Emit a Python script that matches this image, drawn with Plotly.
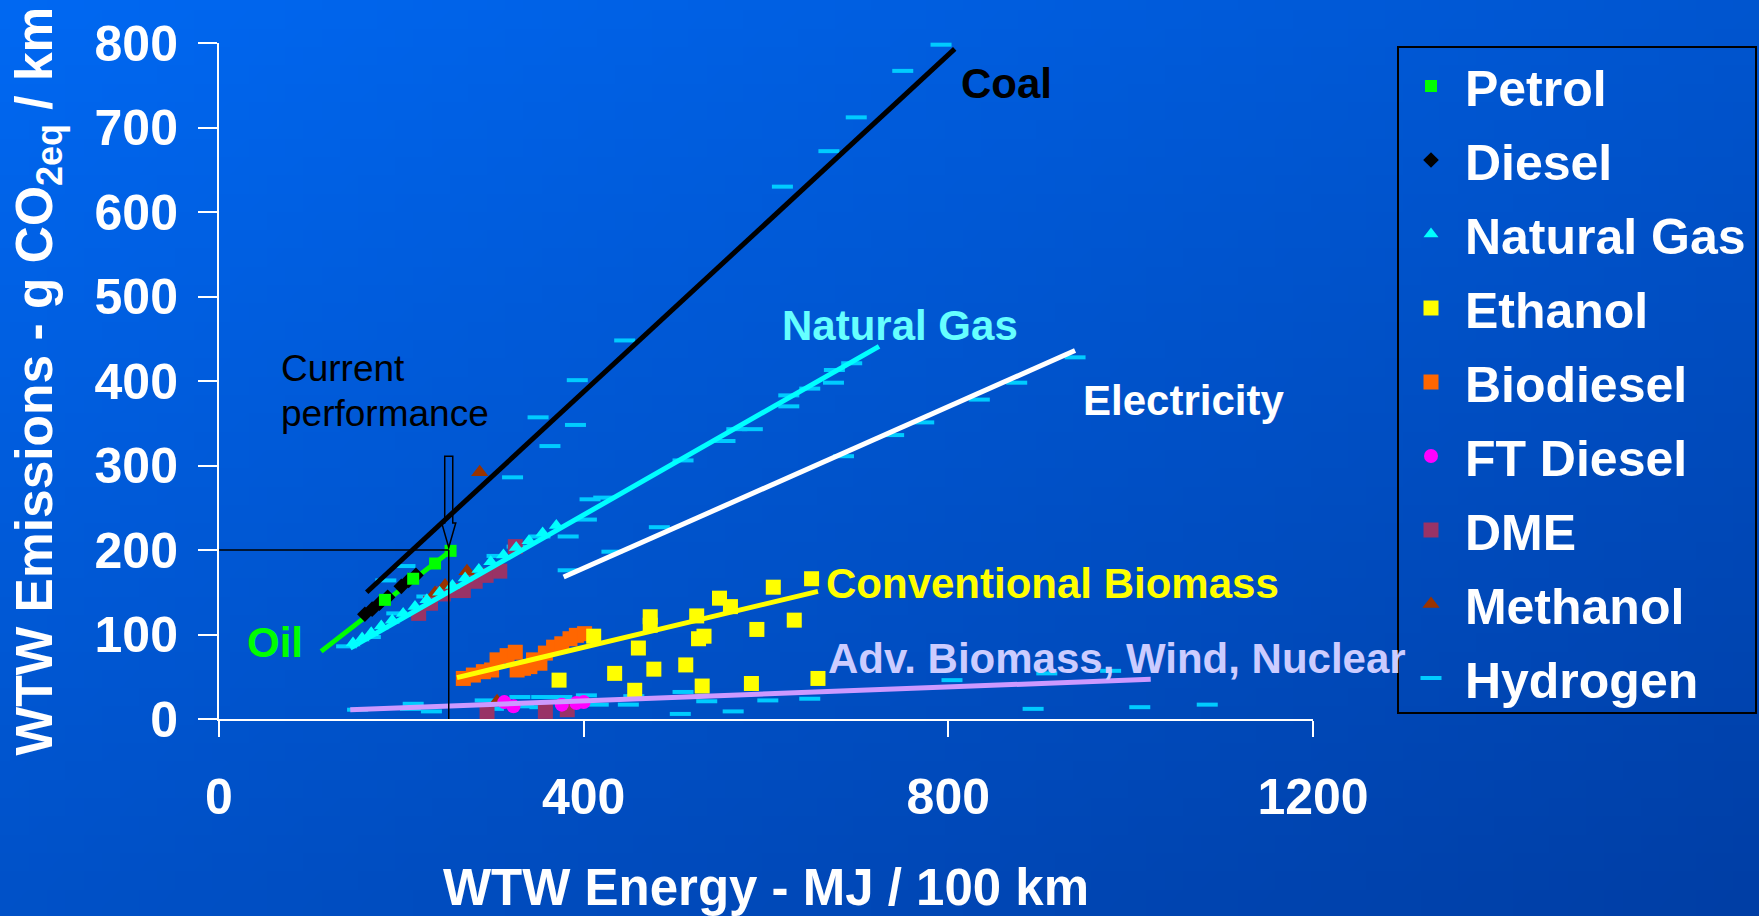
import base64
import struct
import zlib

import plotly.graph_objects as go

# ---------------- data (WTW energy MJ/100 km, WTW emissions g CO2eq/km) ----------------
petrol_x = [182, 213, 237, 254]
petrol_y = [141, 166, 184, 199]

diesel_x = [160, 168, 176, 185, 200, 208, 216]
diesel_y = [124, 130, 137, 144, 157, 164, 170]

natgas_x = [147, 157, 167, 178, 190, 202, 215, 228, 242, 256, 270, 285, 298, 312, 326, 340, 355, 370]
natgas_y = [90, 96, 102, 110, 117, 125, 133, 141, 150, 158, 167, 177, 186, 194, 203, 211, 220, 229]

ethanol_x = [650, 608, 549, 561, 524, 473, 473, 590, 631, 532, 526, 460, 411, 477, 512, 434, 373, 456, 530, 584, 657]
ethanol_y = [166, 156, 143, 133, 122, 121, 111, 106, 117, 98, 95, 84, 98, 59, 64, 54, 46, 34, 39, 42, 48]

biodiesel_x = [268, 279, 290, 299, 305, 316, 325, 327, 334, 341, 345, 352, 358, 367, 376, 385, 392, 401]
biodiesel_y = [48, 52, 56, 58, 70, 75, 79, 58, 60, 62, 70, 66, 78, 85, 89, 95, 99, 101]

ftdiesel_x = [313, 323, 376, 392, 400]
ftdiesel_y = [20, 15, 17, 19, 20]

dme_x = [219, 232, 246, 257, 268, 281, 293, 308, 325, 294, 358, 382]
dme_y = [125, 137, 148, 152, 152, 163, 170, 175, 204, 7, 9, 11]

methanol_x = [286, 272, 248, 237, 305]
methanol_y = [292, 175, 158, 149, 21]

hydrogen_x = [
    792, 750, 699, 669, 618, 445, 393, 350, 391, 363, 322, 204, 183,
    694, 675, 674, 648, 625, 625, 585, 568, 555, 509, 422, 407, 403, 383, 352, 327, 305, 279, 228, 195, 166, 140,
    939, 875, 834, 773, 740, 685, 483, 431, 383,
    152, 210, 213, 233, 292, 301, 330, 334, 352, 354, 376, 403, 416, 449, 455, 506, 509, 535, 564, 602, 648,
    804, 908, 978, 893, 1010, 1084,
]
hydrogen_y = [
    798, 767, 712, 672, 630, 448, 401, 357, 348, 323, 286, 181, 164,
    421, 413, 398, 391, 383, 370, 343, 343, 329, 306, 262, 260, 236, 216, 216, 204, 193, 170, 145, 125, 97, 86,
    428, 398, 378, 351, 336, 311, 227, 198, 176,
    11, 12, 18, 9, 22, 12, 26, 15, 14, 26, 26, 28, 17, 17, 27, 6, 32, 21, 9, 22, 24,
    46, 54, 57, 12, 14, 17,
]

# trend lines per primary energy source
coal_x, coal_y = [162, 807], [150, 793]
ng_line_x, ng_line_y = [144, 724], [84, 441]
elec_x, elec_y = [378, 939], [168, 436]
conv_bio_x, conv_bio_y = [261, 657], [49, 151]
adv_bio_x, adv_bio_y = [144, 1022], [11, 47]
oil_x, oil_y = [112, 254], [80, 199]

# present-day reference vehicle
current_x, current_y = 252, 200

x_ticks = [0, 400, 800, 1200]
y_ticks = [0, 100, 200, 300, 400, 500, 600, 700, 800]

# ---------------- page geometry ----------------
W, H = 1759, 916
M_L, M_R, M_T, M_B = 219, 446, 43, 197
PLOT_W = W - M_L - M_R
PLOT_H = H - M_T - M_B

FONT = "Liberation Sans, Arial, sans-serif"
NBSP = "\u00a0"

# legend frame in page pixels
LEG_LEFT, LEG_RIGHT, LEG_TOP, LEG_BOTTOM = 1398, 1756, 47, 713


def px_to_paper_x(px):
    return (px - M_L) / PLOT_W


def px_to_paper_y(py):
    return (H - M_B - py) / PLOT_H


def gradient_png(w, h, c0, c1):
    """Diagonal linear gradient encoded as a PNG data URI."""
    rows = []
    for j in range(h):
        row = bytearray([0])
        for i in range(w):
            t = 0.45 * i / (w - 1) + 0.55 * j / (h - 1)
            row += bytes(round(a + (b - a) * t) for a, b in zip(c0, c1))
        rows.append(bytes(row))

    def chunk(tag, data):
        return (struct.pack(">I", len(data)) + tag + data
                + struct.pack(">I", zlib.crc32(tag + data) & 0xFFFFFFFF))

    png = (b"\x89PNG\r\n\x1a\n"
           + chunk(b"IHDR", struct.pack(">IIBBBBB", w, h, 8, 2, 0, 0, 0))
           + chunk(b"IDAT", zlib.compress(b"".join(rows), 9))
           + chunk(b"IEND", b""))
    return "data:image/png;base64," + base64.b64encode(png).decode()


fig = go.Figure()


def add_markers(name, xs, ys, symbol, color, size, rank, line_width=0):
    fig.add_trace(go.Scatter(
        x=xs, y=ys, mode="markers", name=NBSP + name,
        legendgroup=name, legendrank=rank, cliponaxis=False,
        marker=dict(symbol=symbol, color=color, size=size,
                    line=dict(width=line_width, color=color)),
    ))


def add_trend(xs, ys, color, width=5):
    fig.add_trace(go.Scatter(
        x=xs, y=ys, mode="lines", showlegend=False, hoverinfo="skip",
        line=dict(color=color, width=width),
    ))


add_markers("Hydrogen", hydrogen_x, hydrogen_y, "line-ew", "#00CCFF", 15, 9, line_width=4)
add_markers("Biodiesel", biodiesel_x, biodiesel_y, "square", "#FF6600", 15, 5)
add_markers("Ethanol", ethanol_x, ethanol_y, "square", "#FFFF00", 15, 4)
add_markers("DME", dme_x, dme_y, "square", "#993366", 15, 7)
add_markers("Methanol", methanol_x, methanol_y, "triangle-up", "#993300", 15, 8)
add_markers("FT Diesel", ftdiesel_x, ftdiesel_y, "circle", "#FF00FF", 14, 6)
add_markers("Natural Gas", natgas_x, natgas_y, "triangle-up", "#00FFFF", 13, 3)

add_trend(adv_bio_x, adv_bio_y, "#CC99FF")
add_trend(conv_bio_x, conv_bio_y, "#FFFF00")
add_trend(elec_x, elec_y, "#FFFFFF")
add_trend(ng_line_x, ng_line_y, "#00FFFF")
add_trend(coal_x, coal_y, "#000000")
add_trend(oil_x, oil_y, "#00FF00")

add_markers("Diesel", diesel_x, diesel_y, "diamond", "#000000", 12, 2)
add_markers("Petrol", petrol_x, petrol_y, "square", "#00FF00", 12, 1)

# pathway labels next to the trend lines
labels = [
    ("Coal", 812, 752, "#000000"),
    ("Natural Gas", 615, 466, "#66FFFF"),
    ("Electricity", 945, 377, "#FFFFFF"),
    ("Conventional Biomass", 664, 160, "#FFFF00"),
    ("Adv. Biomass, Wind, Nuclear", 666, 72, "#CCCCFF"),
    ("Oil", 28, 90, "#00FF00"),
]
annotations = [
    dict(x=x, y=y, xref="x", yref="y", text=t, showarrow=False,
         xanchor="left", yanchor="middle",
         font=dict(family=FONT, size=42, color=c, weight="bold"))
    for t, x, y, c in labels
]
annotations += [
    dict(x=66, y=415, xref="x", yref="y", text="Current", showarrow=False,
         xanchor="left", yanchor="middle", font=dict(family=FONT, size=37, color="#000000")),
    dict(x=66, y=362, xref="x", yref="y", text="performance", showarrow=False,
         xanchor="left", yanchor="middle", font=dict(family=FONT, size=37, color="#000000")),
]

# hollow block arrow pointing at the current-performance point
ARROW_TOP = 311
ARROW_NECK = 232
SHAFT_HALF = 4.4
HEAD_HALF = 7.7
tip_y = current_y + 3
arrow_path = (
    f"M {current_x - SHAFT_HALF},{ARROW_TOP} L {current_x + SHAFT_HALF},{ARROW_TOP} "
    f"L {current_x + SHAFT_HALF},{ARROW_NECK} L {current_x + HEAD_HALF},{ARROW_NECK} "
    f"L {current_x},{tip_y} L {current_x - HEAD_HALF},{ARROW_NECK} "
    f"L {current_x - SHAFT_HALF},{ARROW_NECK} Z"
)
shapes = [
    dict(type="line", xref="x", yref="y", x0=0, y0=current_y, x1=current_x, y1=current_y,
         line=dict(color="#000000", width=1.5)),
    dict(type="line", xref="x", yref="y", x0=current_x, y0=0, x1=current_x, y1=current_y,
         line=dict(color="#000000", width=1.5)),
    dict(type="path", xref="x", yref="y", path=arrow_path,
         line=dict(color="#000000", width=1.5), fillcolor="rgba(0,0,0,0)"),
    # legend frame
    dict(type="rect", xref="paper", yref="paper",
         x0=px_to_paper_x(LEG_LEFT), x1=px_to_paper_x(LEG_RIGHT),
         y0=px_to_paper_y(LEG_BOTTOM), y1=px_to_paper_y(LEG_TOP),
         line=dict(color="#000000", width=2), fillcolor="rgba(0,0,0,0)"),
]

axis_common = dict(
    showline=True, linecolor="#FFFFFF", linewidth=2,
    ticks="outside", tickwidth=2, tickcolor="#FFFFFF",
    showgrid=False, zeroline=False, automargin=False,
    tickfont=dict(family=FONT, size=50, color="#FFFFFF", weight="bold"),
)

fig.update_layout(
    template="none",
    width=W, height=H,
    margin=dict(l=M_L, r=M_R, t=M_T, b=M_B, autoexpand=False),
    paper_bgcolor="#0052CC",
    plot_bgcolor="rgba(0,0,0,0)",
    font=dict(family=FONT, color="#FFFFFF"),
    xaxis=dict(
        **axis_common, range=[0, 1200], tickvals=x_ticks, ticklen=16,
        ticklabelstandoff=17,
        title=dict(text="WTW Energy - MJ / 100 km", standoff=46,
                   font=dict(family=FONT, size=51, color="#FFFFFF", weight="bold")),
    ),
    yaxis=dict(
        **axis_common, range=[0, 800], tickvals=y_ticks, ticklen=19,
        ticklabelstandoff=10,
        title=dict(text="WTW Emissions - g CO<sub>2eq</sub> / km", standoff=26,
                   font=dict(family=FONT, size=51.5, color="#FFFFFF", weight="bold")),
    ),
    legend=dict(
        x=px_to_paper_x(LEG_LEFT + 13), y=px_to_paper_y(LEG_TOP),
        xanchor="left", yanchor="top",
        bgcolor="rgba(0,0,0,0)", borderwidth=0,
        font=dict(family=FONT, size=50, color="#FFFFFF", weight="bold"),
        itemsizing="trace", tracegroupgap=6,
    ),
    annotations=annotations,
    shapes=shapes,
    images=[dict(
        source=gradient_png(96, 50, (0, 104, 242), (0, 62, 165)),
        xref="paper", yref="paper",
        x=-M_L / PLOT_W, y=1 + M_T / PLOT_H,
        sizex=W / PLOT_W, sizey=H / PLOT_H,
        xanchor="left", yanchor="top", sizing="stretch", layer="below",
    )],
    showlegend=True,
    hovermode=False,
)

fig.write_html("out.html")
